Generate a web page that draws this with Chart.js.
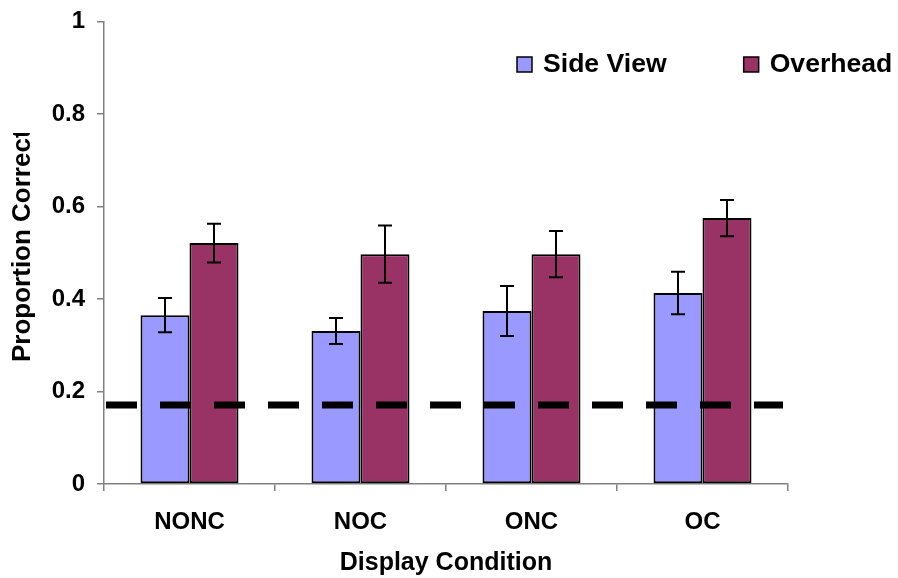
<!DOCTYPE html>
<html>
<head>
<meta charset="utf-8">
<script src="https://cdn.jsdelivr.net/npm/chart.js@4"></script>
<style>
  html, body { margin: 0; padding: 0; background: #fff; }
  #wrap { width: 898px; height: 578px; }
</style>
</head>
<body>
<div id="wrap"><canvas id="chart" width="898" height="578"></canvas></div>
<script>
/* ---------- data ---------- */
const conditions = ['NONC', 'NOC', 'ONC', 'OC'];
const sideView = [0.365, 0.331, 0.374, 0.413];
const sideErr = [0.037, 0.028, 0.054, 0.046];
const overhead = [0.521, 0.497, 0.497, 0.575];
const overErr = [0.042, 0.062, 0.050, 0.039];
const chanceLevel = 0.171;
const yTicks = ['0', '0.2', '0.4', '0.6', '0.8', '1'];

const FONT = '"Liberation Sans", Arial, sans-serif';
const SIDE_COL = '#9999FF', OVER_COL = '#993366', AXIS_COL = '#808080';

/* ---------- plugins ---------- */
// chance line, drawn over the bars
const chanceLine = {
  id: 'chanceLine',
  afterDatasetsDraw(chart) {
    const ctx = chart.ctx, a = chart.chartArea;
    const yy = chart.scales.y.getPixelForValue(chanceLevel);
    ctx.save();
    ctx.strokeStyle = '#000';
    ctx.lineWidth = 7;
    ctx.lineCap = 'butt';
    ctx.setLineDash([31, 23]);
    ctx.beginPath();
    ctx.moveTo(a.left + 2, yy);
    ctx.lineTo(a.right - 5, yy);
    ctx.stroke();
    ctx.restore();
  }
};

const errorBars = {
  id: 'errorBars',
  afterDatasetsDraw(chart) {
    const ctx = chart.ctx, y = chart.scales.y;
    ctx.save();
    ctx.strokeStyle = '#000';
    ctx.lineWidth = 2;
    chart.data.datasets.forEach((ds, i) => {
      if (!ds.errors) return;
      chart.getDatasetMeta(i).data.forEach((bar, j) => {
        const v = ds.data[j], e = ds.errors[j];
        const top = y.getPixelForValue(v + e), bot = y.getPixelForValue(v - e);
        ctx.beginPath();
        ctx.moveTo(bar.x, top); ctx.lineTo(bar.x, bot);
        ctx.moveTo(bar.x - 7, top); ctx.lineTo(bar.x + 7, top);
        ctx.moveTo(bar.x - 7, bot); ctx.lineTo(bar.x + 7, bot);
        ctx.stroke();
      });
    });
    ctx.restore();
  }
};

const sideLegend = {
  id: 'sideLegend',
  afterDraw(chart) {
    const ctx = chart.ctx;
    let x = 517;
    const cy = 64;
    ctx.save();
    ctx.font = 'bold 26.6px ' + FONT;
    ctx.textBaseline = 'middle';
    chart.data.datasets.forEach(ds => {
      ctx.fillStyle = ds.backgroundColor;
      ctx.fillRect(x, cy - 7, 15, 15);
      ctx.strokeStyle = '#000';
      ctx.lineWidth = 1.5;
      ctx.strokeRect(x, cy - 7, 15, 15);
      ctx.fillStyle = '#000';
      ctx.fillText(ds.label, x + 26, cy + 1);
      x += 26 + ctx.measureText(ds.label).width + 77;
    });
    ctx.restore();
  }
};

const yTitle = {
  id: 'yTitle',
  afterDraw(chart) {
    const ctx = chart.ctx;
    ctx.save();
    ctx.beginPath();
    ctx.rect(0, 133, 60, 445);
    ctx.clip();
    ctx.translate(23, 362);
    ctx.rotate(-Math.PI / 2);
    ctx.font = 'bold 26px ' + FONT;
    ctx.fillStyle = '#000';
    ctx.textAlign = 'left';
    ctx.textBaseline = 'middle';
    ctx.fillText('Proportion Correct', 0, 0);
    ctx.restore();
  }
};

/* ---------- chart ---------- */
new Chart(document.getElementById('chart'), {
  type: 'bar',
  data: {
    labels: conditions,
    datasets: [
      {
        label: 'Side View', data: sideView, errors: sideErr,
        backgroundColor: SIDE_COL, borderColor: '#000', borderWidth: 2,
        borderSkipped: false, barPercentage: 1, categoryPercentage: 0.573
      },
      {
        label: 'Overhead', data: overhead, errors: overErr,
        backgroundColor: OVER_COL, borderColor: '#000', borderWidth: 2,
        borderSkipped: false, barPercentage: 1, categoryPercentage: 0.573
      }
    ]
  },
  options: {
    responsive: false,
    animation: false,
    layout: { padding: { top: 0, right: 110, left: 0, bottom: 0 } },
    plugins: { legend: { display: false }, tooltip: { enabled: false } },
    scales: {
      x: {
        grid: { offset: true, drawOnChartArea: false, drawTicks: true, tickLength: 7, color: AXIS_COL, lineWidth: 1.5 },
        border: { color: AXIS_COL, width: 1.5 },
        ticks: { color: '#000', font: { family: FONT, size: 24, weight: 'bold' }, padding: 17, maxRotation: 0 },
        title: { display: true, text: 'Display Condition', color: '#000', font: { family: FONT, size: 25, weight: 'bold' }, padding: 0 },
        afterFit: s => { s.height = 94; }
      },
      y: {
        min: 0, max: 1,
        grid: { drawOnChartArea: false, drawTicks: true, tickLength: 7, color: AXIS_COL, lineWidth: 1.5 },
        border: { color: AXIS_COL, width: 1.5 },
        ticks: {
          stepSize: 0.2, padding: 12, color: '#000',
          font: { family: FONT, size: 24, weight: 'bold', lineHeight: 0.8 },
          callback: (v, i) => yTicks[i]
        },
        afterFit: s => { s.width = 104; }
      }
    }
  },
  plugins: [chanceLine, errorBars, sideLegend, yTitle]
});
</script>
</body>
</html>
